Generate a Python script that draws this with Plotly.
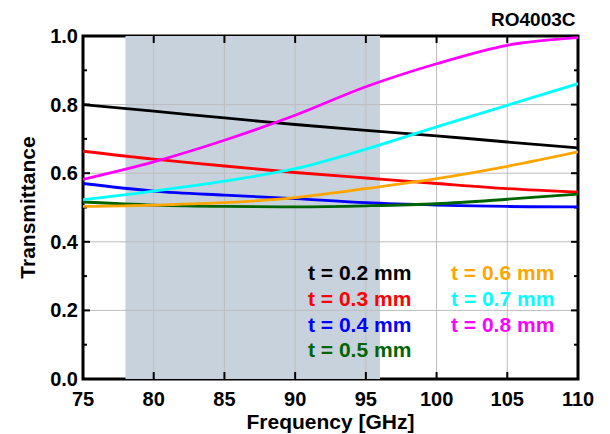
import plotly.graph_objects as go

# Frequency samples [GHz]
freq = [75, 80, 85, 90, 95, 100, 105, 110]

# Transmittance for each substrate thickness
t02 = [0.800, 0.781, 0.761, 0.742, 0.725, 0.709, 0.691, 0.674]
t03 = [0.664, 0.641, 0.621, 0.602, 0.586, 0.570, 0.555, 0.545]
t04 = [0.570, 0.548, 0.536, 0.526, 0.514, 0.507, 0.503, 0.502]
t05 = [0.516, 0.507, 0.503, 0.502, 0.505, 0.511, 0.524, 0.539]
t06 = [0.503, 0.507, 0.514, 0.529, 0.555, 0.584, 0.620, 0.662]
t07 = [0.523, 0.548, 0.577, 0.613, 0.670, 0.735, 0.798, 0.861]
t08 = [0.582, 0.633, 0.696, 0.769, 0.852, 0.919, 0.973, 0.995]

labels = ["t = 0.2 mm", "t = 0.3 mm", "t = 0.4 mm", "t = 0.5 mm",
          "t = 0.6 mm", "t = 0.7 mm", "t = 0.8 mm"]
colors = ["#000000", "#ff0000", "#0000ff", "#006400",
          "#ffa500", "#00ffff", "#ff00ff"]
series = [t02, t03, t04, t05, t06, t07, t08]

# Axis ticks
x_ticks = [75, 80, 85, 90, 95, 100, 105, 110]
y_ticks = [0.0, 0.2, 0.4, 0.6, 0.8, 1.0]
y_minor = [0.1, 0.3, 0.5, 0.7, 0.9]

# Highlighted band [GHz]
band = [78, 96]

# Label anchor positions (frequency, transmittance)
label_x = [90.8, 90.8, 90.8, 90.8, 100.9, 100.9, 100.9]
label_y = [0.310, 0.235, 0.160, 0.085, 0.310, 0.235, 0.160]

FONT = "Liberation Sans"
INK = "#000000"
GRID = "#bdbdbd"
x_lo, x_hi = x_ticks[0], x_ticks[-1]
y_lo, y_hi = y_ticks[0], y_ticks[-1]

fig = go.Figure()
for ys, c, name in zip(series, colors, labels):
    fig.add_trace(go.Scatter(
        x=freq, y=ys, mode="lines", name=name,
        line=dict(color=c, width=2.8, shape="spline", smoothing=1.0),
        showlegend=False,
    ))

# Shaded band
fig.add_shape(type="rect", xref="x", yref="y",
              x0=band[0], x1=band[1], y0=y_lo, y1=y_hi,
              fillcolor="#c8d2dc", line=dict(width=0), layer="below")

# Interior grid lines
for v in x_ticks[1:-1]:
    fig.add_shape(type="line", xref="x", yref="y", x0=v, x1=v, y0=y_lo, y1=y_hi,
                  line=dict(color=GRID, width=1), layer="below")
for v in y_ticks[1:-1]:
    fig.add_shape(type="line", xref="x", yref="y", x0=x_lo, x1=x_hi, y0=v, y1=v,
                  line=dict(color=GRID, width=1), layer="below")

# Inward tick marks on all four sides
tick = dict(color=INK, width=2)
for v in x_ticks:
    fig.add_shape(type="line", xref="x", yref="y", x0=v, x1=v,
                  ysizemode="pixel", yanchor=y_lo, y0=0, y1=7, line=tick, layer="below")
    fig.add_shape(type="line", xref="x", yref="y", x0=v, x1=v,
                  ysizemode="pixel", yanchor=y_hi, y0=-7, y1=0, line=tick, layer="below")
for v, ln in [(v, 7) for v in y_ticks] + [(v, 4) for v in y_minor]:
    fig.add_shape(type="line", xref="x", yref="y", y0=v, y1=v,
                  xsizemode="pixel", xanchor=x_lo, x0=0, x1=ln, line=tick, layer="below")
    fig.add_shape(type="line", xref="x", yref="y", y0=v, y1=v,
                  xsizemode="pixel", xanchor=x_hi, x0=-ln, x1=0, line=tick, layer="below")

# Plot frame
fig.add_shape(type="rect", xref="x domain", yref="y domain",
              x0=0, x1=1, y0=0, y1=1,
              line=dict(color=INK, width=3), layer="below")

for lx, ly, c, name in zip(label_x, label_y, colors, labels):
    fig.add_annotation(x=lx, y=ly, xref="x", yref="y", text=f"<b>{name}</b>",
                       showarrow=False, xanchor="left", yanchor="middle",
                       font=dict(family=FONT, size=21, color=c))

fig.add_annotation(x=1.0, y=1.0, xref="paper", yref="paper", text="<b>RO4003C</b>",
                   showarrow=False, xanchor="right", yanchor="bottom", yshift=4,
                   font=dict(family=FONT, size=19, color=INK))

axis_common = dict(
    showline=False, ticks="", showgrid=False, zeroline=False, automargin=False,
    tickfont=dict(family=FONT, size=20, color=INK),
)

fig.update_xaxes(range=[x_lo, x_hi], tickmode="array", tickvals=x_ticks,
                 ticktext=[f"<b>{v}</b>" for v in x_ticks],
                 ticklabelstandoff=6,
                 title=dict(text="<b>Frequency [GHz]</b>", standoff=2,
                            font=dict(family=FONT, size=21, color=INK)),
                 **axis_common)
fig.update_yaxes(range=[y_lo, y_hi], tickmode="array", tickvals=y_ticks,
                 ticktext=[f"<b>{v:.1f}</b>" for v in y_ticks],
                 ticklabelstandoff=4,
                 title=dict(text="<b>Transmittance</b>", standoff=8,
                            font=dict(family=FONT, size=21, color=INK)),
                 **axis_common)

fig.update_layout(
    width=610, height=434,
    margin=dict(l=83, r=32, t=36, b=55),
    plot_bgcolor="white", paper_bgcolor="white",
)

fig.write_html("out.html")
